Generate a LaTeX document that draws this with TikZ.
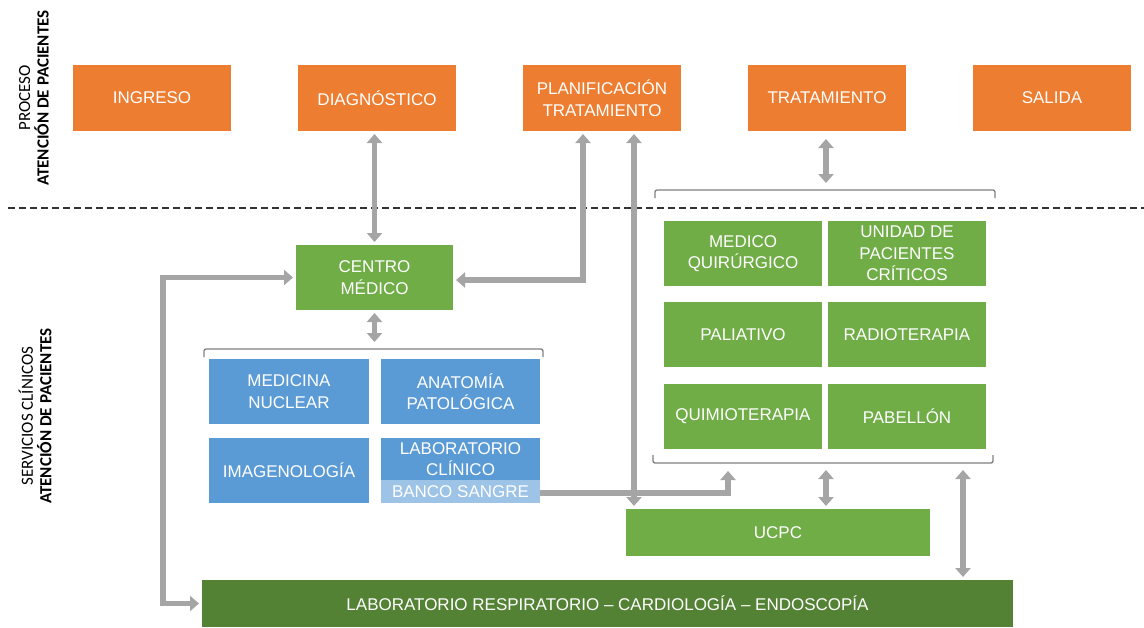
\documentclass[tikz,border=0pt]{standalone}
\usepackage{fontspec}
\setmainfont{Liberation Sans}
\newfontfamily\calibri{Carlito}
\usetikzlibrary{positioning,arrows.meta}
\definecolor{naranja}{HTML}{ED7D31}
\definecolor{verde}{HTML}{70AD47}
\definecolor{verdeosc}{HTML}{548235}
\definecolor{azul}{HTML}{5B9BD5}
\definecolor{azulclaro}{HTML}{9DC3E6}
\definecolor{gris}{HTML}{A5A5A5}
\definecolor{grisllave}{HTML}{7F7F7F}

\begin{document}
\begin{tikzpicture}[x=1pt, y=-1pt, node distance=67pt,
  caja/.style={rectangle, inner sep=0pt, outer sep=0pt, minimum width=158pt, minimum height=66pt,
    text=white, align=center, font=\fontsize{17}{21.5}\selectfont},
  proceso/.style={caja, fill=naranja},
  servicio/.style={caja, fill=verde, minimum height=65pt},
  apoyo/.style={caja, fill=azul, minimum width=160pt, minimum height=65pt},
  etiqueta/.style={rotate=90, align=center, font=\calibri\fontsize{17}{18.5}\selectfont},
  flecha/.style={draw=gris, line width=5.5pt, >={Triangle[width=15pt,length=9pt]}, <->,
    shorten <=3pt, shorten >=3pt},
  llave/.style={draw=grisllave, line width=1.3pt, rounded corners=2pt},
  corte/.style={draw=black!80, line width=1.2pt, dash pattern=on 7pt off 4pt}]
  \useasboundingbox (0,0) rectangle (1144,627);

  % etiquetas laterales
  \node (etqproceso) [etiqueta] at (34,98) {PROCESO\\\textbf{ATENCIÓN DE PACIENTES}};
  \node (etqservicios) [etiqueta] at (35,416) {SERVICIOS CLÍNICOS\\\textbf{ATENCIÓN DE PACIENTES}};
  \draw[corte] (8,208) -- (1144,208);

  % proceso
  \node (ingreso) [proceso] at (152,98) {INGRESO};
  \node (diagnostico) [proceso, right=of ingreso] {DIAGNÓSTICO};
  \node (planificacion) [proceso, right=of diagnostico] {PLANIFICACIÓN\\TRATAMIENTO};
  \node (tratamiento) [proceso, right=of planificacion] {TRATAMIENTO};
  \node (salida) [proceso, right=of tratamiento] {SALIDA};

  % servicios clinicos
  \node (centro) [servicio, minimum width=157pt] at (374.5,277.5) {CENTRO\\MÉDICO};

  \node (nuclear) [apoyo] at (289,391.5) {MEDICINA\\NUCLEAR};
  \node (patologica) [apoyo, minimum width=159pt, right=12pt of nuclear] {ANATOMÍA\\PATOLÓGICA};
  \node (imagen) [apoyo, below=14pt of nuclear] {IMAGENOLOGÍA};
  \node (labclinico) [apoyo, minimum width=159pt, minimum height=42pt, below=14pt of patologica] {LABORATORIO\\CLÍNICO};
  \node (banco) [apoyo, fill=azulclaro, minimum width=159pt, minimum height=23pt, below=0pt of labclinico] {BANCO SANGRE};

  \node (quirurgico) [servicio] at (743,253.5) {MEDICO\\QUIRÚRGICO};
  \node (criticos) [servicio, right=6pt of quirurgico] {UNIDAD DE\\PACIENTES\\CRÍTICOS};
  \node (paliativo) [servicio, below=16pt of quirurgico] {PALIATIVO};
  \node (radio) [servicio, right=6pt of paliativo] {RADIOTERAPIA};
  \node (quimio) [servicio, below=17pt of paliativo] {QUIMIOTERAPIA};
  \node (pabellon) [servicio, right=6pt of quimio] {PABELLÓN};

  \node (ucpc) [servicio, minimum width=304pt, minimum height=47pt] at (778,532.5) {UCPC};
  \node (labresp) [caja, fill=verdeosc, minimum width=811pt, minimum height=47pt] at (607.5,603.5)
    {LABORATORIO RESPIRATORIO – CARDIOLOGÍA – ENDOSCOPÍA};

  % llaves
  \draw[llave] (655,198) -- (655,190) -- (995,190) -- (995,198);
  \draw[llave] (204,357) -- (204,349) -- (543,349) -- (543,357);
  \draw[llave] (653,455) -- (653,463) -- (993,463) -- (993,455);
  \coordinate (llavetrat) at (826,190);
  \coordinate (llavecentro) at (374.5,349);
  \coordinate (llavebanco) at (728,463);
  \coordinate (llaveucpc) at (826,463);
  \coordinate (llavelab) at (963,463);
  \coordinate (retorno) at (163,440);

  % flechas
  \draw[flecha] (diagnostico.south -| centro.north) -- (centro.north);
  \draw[flecha] ([xshift=-19pt]planificacion.south) |- ([yshift=-2.5pt]centro.east);
  \draw[flecha] ([xshift=32pt]planificacion.south) -- ([xshift=32pt]planificacion.south |- ucpc.north);
  \draw[flecha, shorten <=8pt, shorten >=7pt] (tratamiento.south -| llavetrat) -- (llavetrat);
  \draw[flecha, shorten >=7pt] (centro.south) -- (llavecentro);
  \draw[flecha, ->, shorten <=0pt, shorten >=8pt] ([yshift=-1.5pt]banco.east) -| (llavebanco);
  \draw[flecha, shorten <=7pt] (llaveucpc) -- (llaveucpc |- ucpc.north);
  \draw[flecha, shorten <=7pt] (llavelab) -- (llavelab |- labresp.north);
  \draw[flecha] (centro.west) -| (retorno) |- (labresp.west);
\end{tikzpicture}
\end{document}
